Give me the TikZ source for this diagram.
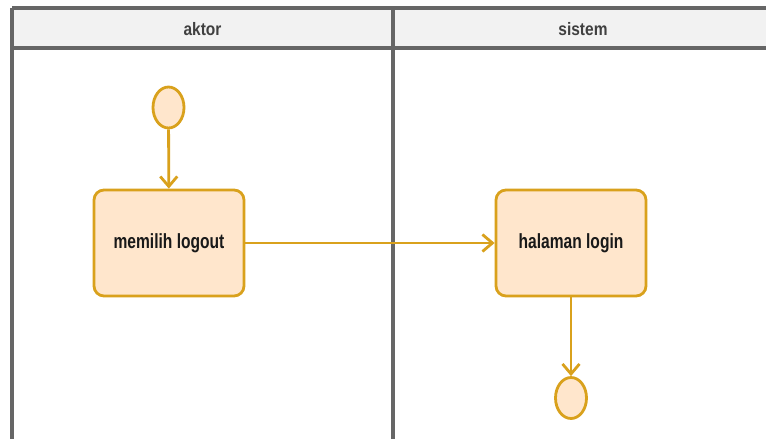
\documentclass[tikz,border=0pt]{standalone}
\usepackage{fontspec}
\setmainfont{Liberation Sans}
\newfontfamily\narrowbold[FakeStretch=0.76]{Liberation Sans Bold}
\newfontfamily\narrowhead[FakeStretch=0.86]{Liberation Sans Bold}
\usetikzlibrary{arrows.meta,shapes.geometric}
\definecolor{lanecol}{HTML}{666666}
\definecolor{headfill}{HTML}{F2F2F2}
\definecolor{actstroke}{HTML}{D9A11C}
\definecolor{actfill}{HTML}{FFE6CC}
\begin{document}
\begin{tikzpicture}[x=1pt,y=-1pt,
  lane/.style={draw=lanecol,line width=3.5pt},
  headtext/.style={font=\narrowhead\fontsize{18}{20}\selectfont,text=black!75},
  actbox/.style={draw=actstroke,fill=actfill,line width=2.8pt,rounded corners=10pt,
     minimum width=150pt,minimum height=106pt,font=\narrowbold\fontsize{20.5}{22}\selectfont,text=black!90},
  termnode/.style={draw=actstroke,fill=actfill,line width=2.8pt,ellipse,
     minimum width=31pt,minimum height=41pt,inner sep=0pt},
  flow/.style={draw=actstroke,line width=2.8pt,-{Straight Barb[length=10pt,width=17pt,line width=2.8pt]}}]
\useasboundingbox (0,0) rectangle (766,439);
\fill[white] (0,0) rectangle (766,439);
% header
\fill[headfill] (12,8) rectangle (766,48);
\draw[lane] (12,8) -- (766,8);
\draw[lane] (12,48) -- (766,48);
\draw[lane] (12,8) -- (12,439);
\draw[lane] (393,8) -- (393,439);
\node[headtext] (h1) at (202.5,29) {aktor};
\node[headtext] (h2) at (583,29) {sistem};
% nodes
\node[termnode] (start) at (168.5,107.5) {};
\node[actbox] (a1) at (169,243) {memilih logout};
\node[actbox] (a2) at (571,243) {halaman login};
\node[termnode] (end) at (571,398) {};
% connectors
\draw[flow] (start) -- (a1);
\draw[flow] (a1) -- (a2);
\draw[flow] (a2) -- (end);
\end{tikzpicture}
\end{document}
